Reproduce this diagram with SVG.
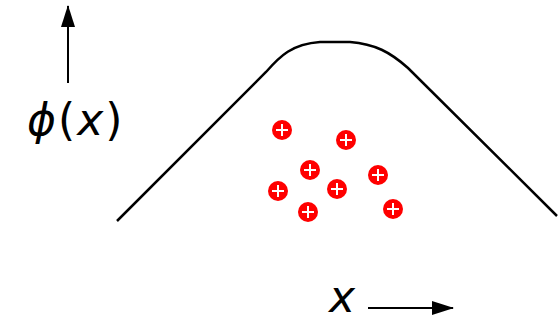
<svg xmlns="http://www.w3.org/2000/svg" width="559" height="321" viewBox="0 0 559 321">
<style>
.lbl{font-family:"DejaVu Sans",sans-serif;font-size:44px;fill:#000}
.it{font-style:oblique}
.chg circle{fill:#ff0000}
.chg path{stroke:#fff;stroke-width:2;fill:none}
</style>
<defs>
<marker id="ah2" viewBox="0 0 22 14" refX="21" refY="7" markerWidth="22" markerHeight="14" orient="auto" markerUnits="userSpaceOnUse">
<path d="M0,0 L22,7 L0,14 z" fill="#000"/>
</marker>
</defs>
<g id="connectors">
<line x1="68" y1="83" x2="68" y2="6" stroke="#000" stroke-width="2" marker-end="url(#ah2)"/>
<line x1="368" y1="308" x2="453" y2="308" stroke="#000" stroke-width="2" marker-end="url(#ah2)"/>
</g>
<g id="potential">
<path d="M117,221 L266,72 C280,56 292,44 320,42 L350,42 C375,44 390,52 408,68 L557,216" fill="none" stroke="#000" stroke-width="2.5"/>
</g>
<g id="ylabel"><text class="lbl" x="27" y="135" letter-spacing="2"><tspan class="it">ϕ</tspan>(<tspan class="it">x</tspan>)</text></g>
<g id="xlabel"><text class="lbl it" x="329" y="312" font-size="38">x</text></g>
<g id="charges" class="chg">
<g id="c1"><circle cx="282" cy="130" r="10"/><path d="M276,130 h12 M282,124 v12"/></g>
<g id="c2"><circle cx="346" cy="140" r="10"/><path d="M340,140 h12 M346,134 v12"/></g>
<g id="c3"><circle cx="310" cy="170" r="10"/><path d="M304,170 h12 M310,164 v12"/></g>
<g id="c4"><circle cx="278" cy="191" r="10"/><path d="M272,191 h12 M278,185 v12"/></g>
<g id="c5"><circle cx="337" cy="189" r="10"/><path d="M331,189 h12 M337,183 v12"/></g>
<g id="c6"><circle cx="378" cy="175" r="10"/><path d="M372,175 h12 M378,169 v12"/></g>
<g id="c7"><circle cx="308" cy="212" r="10"/><path d="M302,212 h12 M308,206 v12"/></g>
<g id="c8"><circle cx="393" cy="209" r="10"/><path d="M387,209 h12 M393,203 v12"/></g>
</g>
</svg>
